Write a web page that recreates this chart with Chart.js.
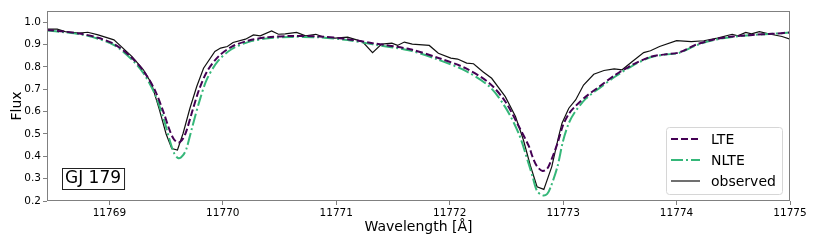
<!DOCTYPE html>
<html>
<head>
<meta charset="utf-8">
<script src="https://cdn.jsdelivr.net/npm/chart.js@4"></script>
<style>
  html, body { margin: 0; padding: 0; background: #fff; }
  #wrap { width: 817px; height: 245px; }
</style>
</head>
<body>
<div id="wrap"><canvas id="spectrum" width="817" height="245"></canvas></div>
<script>
// observed spectrum
const obsWave = [11768.45, 11768.54, 11768.61, 11768.73, 11768.81, 11768.90, 11769.04, 11769.20, 11769.30, 11769.37,
  11769.44, 11769.50, 11769.55, 11769.60, 11769.65, 11769.71, 11769.77, 11769.83, 11769.93, 11769.98,
  11770.04, 11770.09, 11770.20, 11770.27, 11770.33, 11770.43, 11770.49, 11770.55, 11770.65, 11770.73,
  11770.82, 11770.90, 11770.99, 11771.10, 11771.23, 11771.32, 11771.40, 11771.49, 11771.54, 11771.60,
  11771.67, 11771.82, 11771.90, 11772.01, 11772.07, 11772.15, 11772.21, 11772.29, 11772.37, 11772.49,
  11772.58, 11772.65, 11772.71, 11772.77, 11772.83, 11772.90, 11772.96, 11772.99, 11773.05, 11773.11,
  11773.18, 11773.27, 11773.36, 11773.45, 11773.52, 11773.61, 11773.71, 11773.77, 11773.85, 11774.00,
  11774.13, 11774.24, 11774.36, 11774.49, 11774.54, 11774.61, 11774.66, 11774.73, 11774.83, 11774.93, 11775.00];
const obsFlux = [0.969, 0.969, 0.958, 0.951, 0.955, 0.943, 0.921, 0.846, 0.787, 0.727,
  0.610, 0.500, 0.435, 0.428, 0.503, 0.615, 0.712, 0.794, 0.869, 0.884,
  0.891, 0.909, 0.924, 0.943, 0.939, 0.961, 0.946, 0.948, 0.954, 0.939,
  0.946, 0.931, 0.929, 0.933, 0.913, 0.864, 0.902, 0.906, 0.896, 0.911,
  0.902, 0.896, 0.861, 0.839, 0.835, 0.817, 0.814, 0.779, 0.749, 0.667,
  0.578, 0.473, 0.360, 0.264, 0.252, 0.354, 0.488, 0.548, 0.615, 0.652,
  0.719, 0.767, 0.784, 0.791, 0.787, 0.824, 0.864, 0.872, 0.891, 0.917,
  0.913, 0.917, 0.929, 0.946, 0.939, 0.954, 0.948, 0.958, 0.946, 0.936, 0.924];

// synthetic spectra
const modelWave = [11768.45, 11768.60, 11768.75, 11768.90, 11769.05, 11769.20, 11769.30, 11769.40, 11769.48, 11769.53,
  11769.57, 11769.61, 11769.65, 11769.68, 11769.73, 11769.79, 11769.86, 11769.96, 11770.08, 11770.23,
  11770.40, 11770.60, 11770.85, 11771.10, 11771.32, 11771.65, 11771.90, 11772.14, 11772.35, 11772.49,
  11772.61, 11772.70, 11772.73, 11772.77, 11772.82, 11772.86, 11772.89, 11772.95, 11773.00, 11773.05,
  11773.10, 11773.20, 11773.32, 11773.46, 11773.61, 11773.77, 11773.90, 11774.02, 11774.17, 11774.32,
  11774.49, 11774.67, 11774.85, 11775.00];
const lteFlux = [0.965, 0.958, 0.948, 0.930, 0.900, 0.840, 0.782, 0.697, 0.593, 0.518,
  0.475, 0.461, 0.480, 0.515, 0.600, 0.697, 0.779, 0.846, 0.891, 0.918,
  0.933, 0.938, 0.936, 0.924, 0.906, 0.879, 0.840, 0.794, 0.727, 0.645,
  0.533, 0.443, 0.398, 0.355, 0.334, 0.345, 0.376, 0.458, 0.540, 0.590,
  0.620, 0.667, 0.712, 0.764, 0.809, 0.845, 0.856, 0.864, 0.899, 0.921,
  0.936, 0.943, 0.948, 0.954];
const nlteFlux = [0.963, 0.955, 0.945, 0.926, 0.895, 0.832, 0.772, 0.680, 0.565, 0.475,
  0.415, 0.391, 0.405, 0.435, 0.530, 0.640, 0.745, 0.828, 0.880, 0.912,
  0.928, 0.934, 0.932, 0.920, 0.901, 0.873, 0.832, 0.782, 0.712, 0.620,
  0.500, 0.360, 0.310, 0.245, 0.225, 0.232, 0.262, 0.354, 0.470, 0.548,
  0.595, 0.658, 0.705, 0.757, 0.805, 0.843, 0.855, 0.862, 0.896, 0.919,
  0.934, 0.943, 0.948, 0.954];

const xTicks = [11769, 11770, 11771, 11772, 11773, 11774, 11775];
const yTicks = [0.2, 0.3, 0.4, 0.5, 0.6, 0.7, 0.8, 0.9, 1.0];

const starName = 'GJ 179';
const seriesNames = ['LTE', 'NLTE', 'observed'];

function zip(xs, ys) {
  return xs.map((x, i) => ({ x: x, y: ys[i] }));
}

const FONT = 'DejaVu Sans';
const frameColor = '#808080';

const framePlugin = {
  id: 'frame',
  afterDraw(chart) {
    const ctx = chart.ctx;
    const a = chart.chartArea;
    ctx.save();
    ctx.strokeStyle = frameColor;
    ctx.lineWidth = 1;
    ctx.strokeRect(a.left + 0.5, a.top + 0.5, a.right - a.left - 1, a.bottom - a.top - 1);

    // star label box
    ctx.font = '17px "' + FONT + '"';
    ctx.textBaseline = 'middle';
    const w = ctx.measureText(starName).width;
    ctx.fillStyle = '#fff';
    ctx.fillRect(62, 168, w + 6, 21);
    ctx.strokeStyle = '#222';
    ctx.strokeRect(62.5, 168.5, w + 6, 21);
    ctx.fillStyle = '#000';
    ctx.fillText(starName, 65, 179);

    // legend box
    const lx = 666, ly = 127, lw = 116, lh = 67;
    ctx.fillStyle = 'rgba(255,255,255,0.85)';
    ctx.strokeStyle = '#d6d6d6';
    ctx.beginPath();
    ctx.roundRect(lx + 0.5, ly + 0.5, lw, lh, 3);
    ctx.fill();
    ctx.stroke();
    ctx.font = '14px "' + FONT + '"';
    chart.data.datasets.forEach((ds, i) => {
      const y = 139 + i * 21;
      ctx.strokeStyle = ds.borderColor;
      ctx.lineWidth = ds.borderWidth;
      ctx.setLineDash(ds.borderDash || []);
      ctx.beginPath();
      ctx.moveTo(671, y);
      ctx.lineTo(700, y);
      ctx.stroke();
      ctx.setLineDash([]);
      ctx.fillStyle = '#000';
      ctx.textAlign = 'left';
      ctx.fillText(ds.label, 711, y + 1);
    });
    ctx.restore();
  }
};

new Chart(document.getElementById('spectrum'), {
  type: 'line',
  data: {
    datasets: [{
      label: seriesNames[0],
      data: zip(modelWave, lteFlux),
      borderColor: '#440154',
      borderWidth: 2,
      borderDash: [7, 3],
      pointRadius: 0,
      tension: 0.3,
      fill: false
    }, {
      label: seriesNames[1],
      data: zip(modelWave, nlteFlux),
      borderColor: '#35b779',
      borderWidth: 2,
      borderDash: [12, 3, 2, 3],
      pointRadius: 0,
      tension: 0.3,
      fill: false
    }, {
      label: seriesNames[2],
      data: zip(obsWave, obsFlux),
      borderColor: '#111',
      borderWidth: 1.2,
      pointRadius: 0,
      tension: 0,
      fill: false
    }]
  },
  options: {
    responsive: false,
    animation: false,
    layout: { padding: { top: 11, right: 27, left: 0, bottom: 0 } },
    plugins: {
      legend: { display: false },
      tooltip: { enabled: false }
    },
    scales: {
      x: {
        type: 'linear',
        min: 11768.45,
        max: 11775,
        afterBuildTicks: (s) => { s.ticks = xTicks.map(v => ({ value: v })); },
        afterFit: (s) => { s.height = 44; },
        grid: { drawOnChartArea: false, drawTicks: true, tickLength: 4, color: frameColor },
        border: { display: false },
        ticks: {
          font: { family: FONT, size: 10.5 },
          color: '#000',
          padding: 2,
          maxRotation: 0,
          callback: (v) => String(v)
        },
        title: {
          display: true,
          text: 'Wavelength [Å]',
          font: { family: FONT, size: 14 },
          color: '#000',
          padding: { top: 0, bottom: 9 }
        }
      },
      y: {
        min: 0.2,
        max: 1.05,
        afterBuildTicks: (s) => { s.ticks = yTicks.map(v => ({ value: v })); },
        afterFit: (s) => { s.width = 47; },
        grid: { drawOnChartArea: false, drawTicks: true, tickLength: 4, color: frameColor },
        border: { display: false },
        ticks: {
          font: { family: FONT, size: 10.5 },
          color: '#000',
          padding: 2,
          callback: (v) => v.toFixed(1)
        },
        title: {
          display: true,
          text: 'Flux',
          font: { family: FONT, size: 14 },
          color: '#000',
          padding: { top: 9, bottom: 0 }
        }
      }
    }
  },
  plugins: [framePlugin]
});
</script>
</body>
</html>
